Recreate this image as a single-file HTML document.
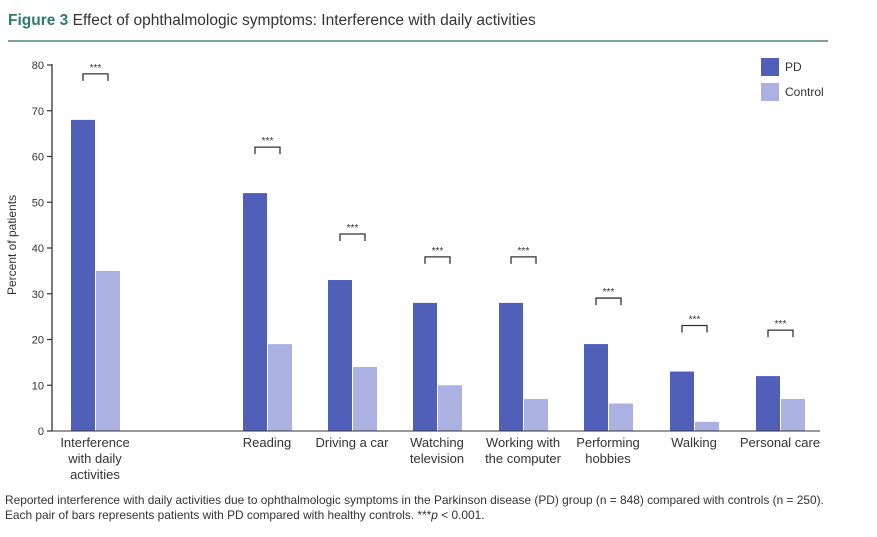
<!DOCTYPE html>
<html><head><meta charset="utf-8"><style>
body{margin:0;background:#fff;font-family:"Liberation Sans",sans-serif;}
svg{display:block}
</style></head><body>
<svg width="877" height="537" viewBox="0 0 877 537">
<text x="8" y="25" font-size="15.5" fill="#333"><tspan font-weight="bold" fill="#2e7b6e">Figure 3</tspan> Effect of ophthalmologic symptoms: Interference with daily activities</text>
<line x1="8" y1="41" x2="828" y2="41" stroke="#2e6b60" stroke-width="1.2"/>
<g id="chart"></g>
<text x="16" y="245" font-size="12" fill="#333" text-anchor="middle" transform="rotate(-90 16 245)">Percent of patients</text>
<rect x="761" y="58" width="18" height="18" fill="#5060b8"/>
<text x="785" y="71" font-size="12" fill="#333">PD</text>
<rect x="761" y="83" width="18" height="18" fill="#abb2e2"/>
<text x="785" y="96" font-size="12" fill="#333">Control</text>
<text x="5" y="504" font-size="11.9" fill="#333">Reported interference with daily activities due to ophthalmologic symptoms in the Parkinson disease (PD) group (n = 848) compared with controls (n = 250).</text>
<text x="5" y="519" font-size="11.9" fill="#333">Each pair of bars represents patients with PD compared with healthy controls. ***<tspan font-style="italic">p</tspan> &lt; 0.001.</text>
</svg>
<script>
const categories=[["Interference","with daily","activities"],["Reading"],["Driving a car"],["Watching","television"],["Working with","the computer"],["Performing","hobbies"],["Walking"],["Personal care"]];
const pdValues=[68,52,33,28,28,19,13,12];
const controlValues=[35,19,14,10,7,6,2,7];
const yTicks=[0,10,20,30,40,50,60,70,80];
const groupStarts=[71,243,328,413,499,584,670,756];
const NS="http://www.w3.org/2000/svg";
const g=document.getElementById('chart');
const y=v=>431-v*4.575;
const bw=24;
function el(t,a){const e=document.createElementNS(NS,t);for(const k in a)e.setAttribute(k,a[k]);g.appendChild(e);return e;}
const ax=el('line',{x1:52,y1:y(80)-1,x2:52,y2:431,stroke:'#333','stroke-width':1.3});


yTicks.forEach(t=>{
 const l=el('line',{x1:47,y1:y(t),x2:52,y2:y(t),stroke:'#333','stroke-width':1.2});
 
 
 const tx=el('text',{x:44,y:y(t)+4,'font-size':11,fill:'#333','text-anchor':'end'});
 tx.textContent=t;
 
 
});
categories.forEach((c,i)=>{
 const x0=groupStarts[i];
 const b1=el('rect',{x:x0,y:y(pdValues[i]),width:bw,height:431-y(pdValues[i]),fill:'#5060b8'});
 
 
 const b2=el('rect',{x:x0+bw+1,y:y(controlValues[i]),width:bw,height:431-y(controlValues[i]),fill:'#abb2e2'});
 
 
 const by=y(pdValues[i])-46;
 const bx1=x0+12,bx2=x0+37;
 const br=el('path',{d:`M${bx1} ${by+7}V${by}H${bx2}V${by+7}`,fill:'none',stroke:'#333','stroke-width':1.3});
 
 
 const st=el('text',{x:(bx1+bx2)/2,y:by-3,'font-size':10,fill:'#333','text-anchor':'middle'});
 st.textContent='***';
 
 
 c.forEach((line,j)=>{
  const lt=el('text',{x:x0+bw,y:447+j*16,'font-size':13,fill:'#333','text-anchor':'middle'});
  lt.textContent=line;
  
  
 });
});
const xa=el('line',{x1:52,y1:431,x2:820,y2:431,stroke:'#333','stroke-width':1});


</script>
</body></html>
